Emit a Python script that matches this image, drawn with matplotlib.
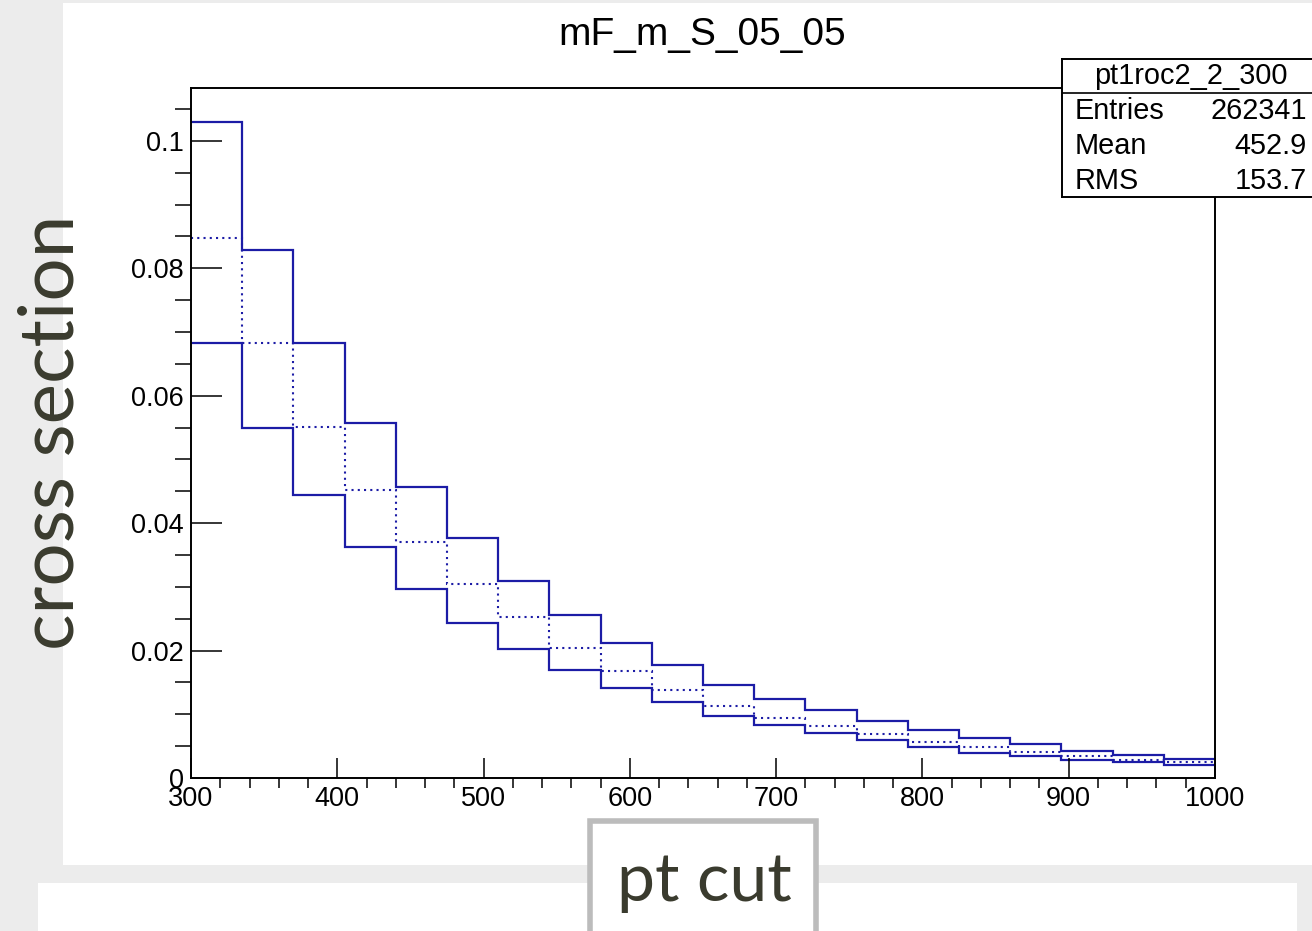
import numpy as np
import matplotlib.pyplot as plt
from matplotlib.patches import Rectangle
from matplotlib.ticker import MultipleLocator, FuncFormatter

# bin edges of the pt cut histograms
bin_edges = [300, 335, 370, 405, 440, 475, 510, 545, 580, 615, 650,
             685, 720, 755, 790, 825, 860, 895, 930, 965, 1000]

# three histograms (upper solid, middle dotted, lower solid)
upper = [0.1030, 0.0829, 0.0683, 0.0557, 0.0457, 0.0377, 0.0309, 0.0256,
         0.0212, 0.0177, 0.0146, 0.0124, 0.0106, 0.0089, 0.0075, 0.0062,
         0.0053, 0.0043, 0.0036, 0.0030]
middle = [0.0847, 0.0683, 0.0551, 0.0452, 0.0371, 0.0305, 0.0252, 0.0204,
          0.0168, 0.0138, 0.0113, 0.0094, 0.0082, 0.0069, 0.0057, 0.0049,
          0.0041, 0.0035, 0.0029, 0.0025]
lower = [0.0683, 0.0550, 0.0444, 0.0363, 0.0297, 0.0244, 0.0203, 0.0170,
         0.0141, 0.0119, 0.0097, 0.0083, 0.0070, 0.0059, 0.0048, 0.0040,
         0.0034, 0.0028, 0.0025, 0.0021]

title = "mF_m_S_05_05"
stats_name = "pt1roc2_2_300"
stats_rows = [("Entries", "262341"), ("Mean", "452.9"), ("RMS", "153.7")]

W, H = 1312, 931
plt.rcParams['font.family'] = ['Liberation Sans', 'DejaVu Sans']
fig = plt.figure(figsize=(W / 100, H / 100), dpi=100)

# ---- background decoration (slide background) ----
bg = fig.add_axes([0, 0, 1, 1], zorder=0)
bg.set_xlim(0, W)
bg.set_ylim(H, 0)
bg.axis('off')
bg.add_patch(Rectangle((0, 0), W, H, color='#ececec', lw=0))
grad = np.linspace(0.85, 0.96, 64)[None, :]
bg.imshow(grad, cmap='gray', vmin=0, vmax=1, extent=(0, 63, H, 0), aspect='auto')
bg.add_patch(Rectangle((63, 3), W - 63, 862, color='white', lw=0))
bg.add_patch(Rectangle((38, 883), 1259, 60, color='white', lw=0))
bg.add_patch(Rectangle((590, 821), 226, 130, facecolor='white',
                       edgecolor='#bcbcbc', lw=4))
bg.text(52, 432, "cross section", rotation=90, ha='center', va='center',
        fontsize=55, color='#3a3b2e', family=['Lato', 'DejaVu Sans'])
bg.text(704, 882, "pt cut", ha='center', va='center',
        fontsize=49, color='#3a3b2e', family=['Lato', 'DejaVu Sans'])

# ---- main histogram frame ----
x0, x1, y0, y1 = 191, 1215, 88, 778
ax = fig.add_axes([x0 / W, 1 - y1 / H, (x1 - x0) / W, (y1 - y0) / H], zorder=2)
ax.patch.set_alpha(0)

blue = '#1c1ca6'
ax.stairs(upper, bin_edges, baseline=None, color=blue, lw=1.6)
ax.stairs(middle, bin_edges, baseline=None, color=blue, lw=1.5,
          linestyle=(0, (1, 2)))
ax.stairs(lower, bin_edges, baseline=None, color=blue, lw=1.6)

ax.set_xlim(300, 1000)
ax.set_ylim(0, 0.1083)

for s in ax.spines.values():
    s.set_linewidth(1.4)
ax.xaxis.set_major_locator(MultipleLocator(100))
ax.xaxis.set_minor_locator(MultipleLocator(20))
ax.yaxis.set_major_locator(MultipleLocator(0.02))
ax.yaxis.set_minor_locator(MultipleLocator(0.005))
ax.yaxis.set_major_formatter(FuncFormatter(lambda v, p: f"{v:g}"))
ax.tick_params(direction='in', labelsize=19.5, width=1.1)
ax.tick_params(axis='x', which='major', length=14.5, pad=5.5)
ax.tick_params(axis='x', which='minor', length=7, width=1.1)
ax.tick_params(axis='y', which='major', length=22, pad=5)
ax.tick_params(axis='y', which='minor', length=11.5, width=1.1)

fig.text(702 / W, 1 - 45 / H, title, ha='center', va='baseline', fontsize=28)

# ---- stats box ----
sx0, sx1, sy0, sy1 = 1062, 1320, 59, 197
st = fig.add_axes([sx0 / W, 1 - sy1 / H, (sx1 - sx0) / W, (sy1 - sy0) / H],
                  zorder=3)
st.set_xlim(sx0, sx1)
st.set_ylim(sy1, sy0)
st.set_xticks([])
st.set_yticks([])
for s in st.spines.values():
    s.set_linewidth(1.4)
st.axhline(93, color='black', lw=1.2)
st.text(1191, 76, stats_name, ha='center', va='center', fontsize=20.8)
for i, (k, v) in enumerate(stats_rows):
    yy = 111 + 35 * i
    st.text(1075, yy, k, ha='left', va='center', fontsize=20.8)
    st.text(1307, yy, v, ha='right', va='center', fontsize=20.8)

fig.savefig('out.png', dpi=100)
